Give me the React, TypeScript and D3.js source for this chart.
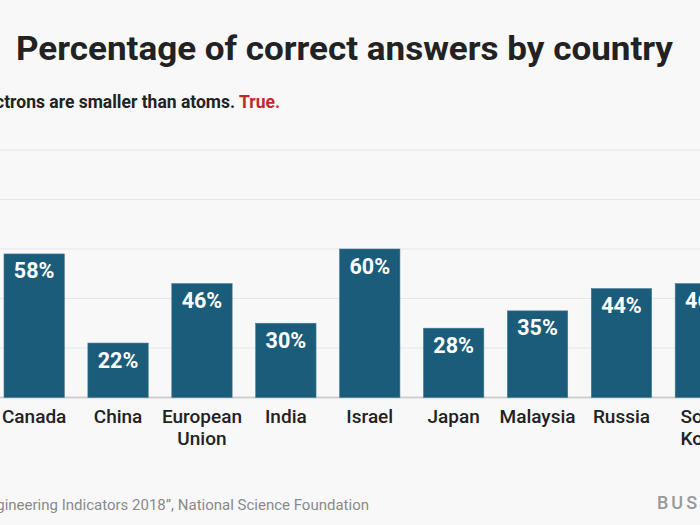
import React from "react";
import * as d3 from "d3";

const categories = ["Canada", "China", "European Union", "India", "Israel", "Japan", "Malaysia", "Russia", "South Korea"];
const values = [58, 22, 46, 30, 60, 28, 35, 44, 46];
const yTicks = [0, 20, 40, 60, 80, 100];

const title = "Percentage of correct answers by country";
const subtitle = "Electrons are smaller than atoms. ";
const answer = "True.";
const source = "Source: \u201cScience and Engineering Indicators 2018\u201d, National Science Foundation";
const brand = "BUSINESS INSIDER";

const W = 700;
const H = 525;

export default function App() {
  const step = 83.9;
  const pad = 0.281;
  const x = d3
    .scaleBand<string>()
    .domain(categories)
    .range([4 - (pad / 2) * step, 4 - (pad / 2) * step + categories.length * step])
    .paddingInner(pad)
    .paddingOuter(pad / 2);
  const y = d3.scaleLinear().domain([0, 100]).range([397.5, 150]);

  return (
    <svg width={W} height={H} style={{ position: "absolute", left: 0, top: 0, background: "#f8f8f8" }} fontFamily="Roboto, 'Noto Sans', sans-serif">
      <rect x={0} y={0} width={W} height={H} fill="#f8f8f8" />
      <text x={16} y={60} fontSize={34} fontWeight={700} fill="#222" textLength={657} lengthAdjust="spacingAndGlyphs">
        {title}
      </text>
      <text x={280} y={108} fontSize={17.5} fontWeight={700} fill="#222" textAnchor="end">
        <tspan>{subtitle}</tspan>
        <tspan fill="#c3272b">{answer}</tspan>
      </text>
      {yTicks.map((t) => (
        <line key={t} x1={0} x2={W} y1={y(t)} y2={y(t)} stroke={t === 0 ? "#cfcfcf" : "#e6e6e6"} strokeWidth={t === 0 ? 2 : 1.2} />
      ))}
      {categories.map((c, i) => {
        const bx = x(c)!;
        const bw = x.bandwidth();
        const cx = bx + bw / 2;
        return (
          <g key={c}>
            <rect x={bx} y={y(values[i])} width={bw} height={y(0) - y(values[i])} fill="#1a5c7a" stroke="#3f7893" strokeWidth={0.6} />
            <text x={cx} y={y(values[i]) + 24.5} textAnchor="middle" fontSize={21.5} fontWeight={700} fill="#fff">
              {values[i]}%
            </text>
            {c.split(" ").map((ln, j) => (
              <text key={j} x={cx} y={422.5 + j * 22} textAnchor="middle" fontSize={19} fontWeight={500} fill="#222">
                {ln}
              </text>
            ))}
          </g>
        );
      })}
      <text x={369} y={510} fontSize={15} fill="#8a8a8a" textAnchor="end">
        {source}
      </text>
      <text x={657} y={509} fontSize={18} fontWeight={500} fill="#999" letterSpacing={3}>
        {brand}
      </text>
    </svg>
  );
}
